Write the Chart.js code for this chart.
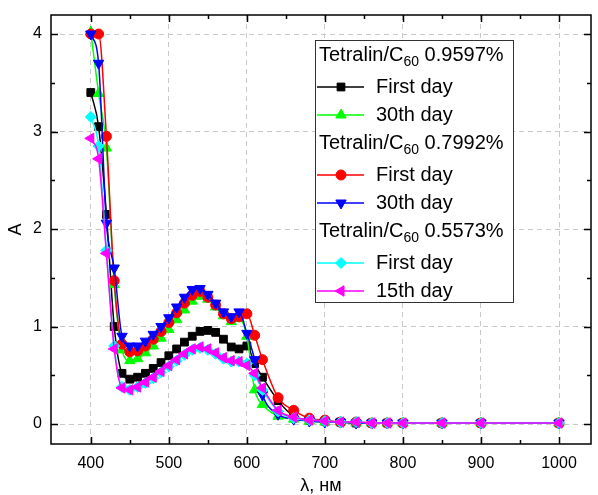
<!DOCTYPE html>
<html>
<head>
<meta charset="utf-8">
<script src="https://cdn.jsdelivr.net/npm/chart.js@4.4.1/dist/chart.umd.min.js"></script>
<style>
  html, body { margin: 0; padding: 0; background: #fff; }
  #wrap { width: 598px; height: 495px; position: relative; }
</style>
</head>
<body>
<div id="wrap"><canvas id="myChart1"></canvas></div>
<script>
// wavelength, nm
const wavelengths = [400,410,420,430,440,450,460,470,480,490,500,510,520,530,540,550,560,570,580,590,600,610,620,
                     640,660,680,700,720,740,760,780,800,850,900,1000];

// Tetralin/C60 0.9597%
const c9597_first = [3.40,3.05,2.15,1.00,0.52,0.46,0.48,0.52,0.57,0.63,0.70,0.77,0.84,0.90,0.95,0.96,0.94,0.87,0.79,0.77,0.80,0.62,0.48,
                     0.24,0.08,0.04,0.03,0.02,0.01,0.01,0.01,0.01,0.01,0.01,0.01];
const c9597_day30 = [4.02,3.39,2.83,1.43,0.76,0.65,0.67,0.73,0.80,0.88,0.97,1.07,1.17,1.26,1.31,1.28,1.20,1.11,1.05,1.08,0.90,0.35,0.20,
                     0.08,0.05,0.03,0.02,0.02,0.01,0.01,0.01,0.01,0.01,0.01,0.01];
// Tetralin/C60 0.7992%
const c7992_first = [4.00,4.00,2.95,1.47,0.82,0.74,0.75,0.80,0.87,0.95,1.04,1.14,1.24,1.32,1.36,1.30,1.22,1.13,1.08,1.10,1.13,0.91,0.66,
                     0.27,0.14,0.06,0.04,0.02,0.02,0.01,0.01,0.01,0.01,0.01,0.01];
const c7992_day30 = [4.00,3.70,2.06,1.60,0.90,0.80,0.80,0.85,0.92,1.00,1.09,1.20,1.30,1.38,1.39,1.33,1.24,1.15,1.10,1.15,0.93,0.66,0.30,
                     0.10,0.05,0.03,0.02,0.02,0.01,0.01,0.01,0.01,0.01,0.01,0.01];
// Tetralin/C60 0.5573%
const c5573_first = [3.15,2.85,1.78,0.80,0.38,0.35,0.38,0.42,0.47,0.53,0.59,0.65,0.71,0.76,0.78,0.76,0.72,0.67,0.64,0.64,0.62,0.50,0.35,
                     0.13,0.06,0.04,0.03,0.02,0.02,0.01,0.01,0.01,0.01,0.01,0.01];
const c5573_day15 = [2.93,2.72,1.75,0.77,0.37,0.35,0.38,0.43,0.48,0.54,0.60,0.66,0.72,0.77,0.79,0.77,0.73,0.68,0.65,0.64,0.60,0.52,0.37,
                     0.14,0.07,0.04,0.03,0.02,0.02,0.01,0.01,0.01,0.01,0.01,0.01];

const xTicks = [400,450,500,550,600,650,700,750,800,850,900,950,1000];
const yTicks = [0,0.5,1,1.5,2,2.5,3,3.5,4];

const FONT = "'Liberation Sans', Arial, sans-serif";

function pts(arr) {
  return arr.map(function(v, i){ return {x: wavelengths[i], y: v}; });
}

function series(label, arr, color, style, rot, radius, ord) {
  return {
    label: label,
    data: pts(arr),
    borderColor: color,
    backgroundColor: color,
    borderWidth: 1.5,
    pointStyle: style,
    pointRotation: rot,
    pointRadius: radius,
    pointBorderWidth: 1,
    pointBorderColor: color,
    pointBackgroundColor: color,
    cubicInterpolationMode: 'monotone',
    order: ord
  };
}

const datasets = [
  series('First day', c9597_first, '#000000', 'rect', 0, 5.5, 6),
  series('30th day', c9597_day30, '#00ff00', 'triangle', 0, 6, 5),
  series('First day', c7992_first, '#ff0000', 'circle', 0, 5, 4),
  series('30th day', c7992_day30, '#0000ff', 'triangle', 180, 6, 3),
  series('First day', c5573_first, '#00ffff', 'rectRot', 0, 5.5, 2),
  series('15th day', c5573_day15, '#ff00ff', 'triangle', -90, 6, 1)
];

const isMajor = function(v, step){ return Math.abs(v / step - Math.round(v / step)) < 1e-6; };

// no extra room for the edge labels, the frame is placed by layout.padding
function noLabelPadding(s) {
  s.paddingTop = 0; s.paddingBottom = 0; s.paddingLeft = 0; s.paddingRight = 0;
}

// frame + inward ticks on all four sides
const framePlugin = {
  id: 'frame',
  afterDraw: function(chart) {
    const ctx = chart.ctx, a = chart.chartArea;
    const sx = chart.scales.x, sy = chart.scales.y;
    ctx.save();
    ctx.strokeStyle = '#000';
    ctx.lineWidth = 1.5;
    ctx.strokeRect(a.left, a.top, a.right - a.left, a.bottom - a.top);
    ctx.beginPath();
    xTicks.forEach(function(v){
      const px = Math.round(sx.getPixelForValue(v)) + 0.5;
      const len = isMajor(v, 100) ? 7 : 4;
      ctx.moveTo(px, a.bottom); ctx.lineTo(px, a.bottom - len);
      ctx.moveTo(px, a.top); ctx.lineTo(px, a.top + len);
    });
    yTicks.forEach(function(v){
      const py = Math.round(sy.getPixelForValue(v)) + 0.5;
      const len = isMajor(v, 1) ? 7 : 4;
      ctx.moveTo(a.left, py); ctx.lineTo(a.left + len, py);
      ctx.moveTo(a.right, py); ctx.lineTo(a.right - len, py);
    });
    ctx.stroke();
    ctx.restore();
  }
};

// grouped legend with headers "Tetralin/C60 x%"
const legendRows = [
  {head: '0.9597%'}, {ds: 0}, {ds: 1},
  {head: '0.7992%'}, {ds: 2}, {ds: 3},
  {head: '0.5573%'}, {ds: 4}, {ds: 5}
];

const legendPlugin = {
  id: 'groupLegend',
  afterDraw: function(chart) {
    const ctx = chart.ctx;
    const bx = 315, by = 40, bw = 198, bh = 262;
    ctx.save();
    ctx.fillStyle = '#fff';
    ctx.fillRect(bx, by, bw, bh);
    ctx.strokeStyle = '#333';
    ctx.lineWidth = 1;
    ctx.strokeRect(bx + 0.5, by + 0.5, bw, bh);
    let y = 55;
    let prevHead = false;
    legendRows.forEach(function(r, i){
      if (i > 0) y += prevHead ? 32 : 28;
      ctx.textBaseline = 'middle';
      ctx.fillStyle = '#000';
      if (r.head) {
        ctx.font = '20px ' + FONT;
        let x = 319;
        ctx.fillText('Tetralin/C', x, y);
        x += ctx.measureText('Tetralin/C').width;
        ctx.font = '14px ' + FONT;
        ctx.fillText('60', x, y + 7);
        x += ctx.measureText('60').width;
        ctx.font = '20px ' + FONT;
        ctx.fillText(' ' + r.head, x, y);
        prevHead = true;
      } else {
        const d = chart.data.datasets[r.ds];
        ctx.strokeStyle = d.borderColor;
        ctx.lineWidth = 1.5;
        ctx.beginPath();
        ctx.moveTo(317, y); ctx.lineTo(364, y);
        ctx.stroke();
        ctx.fillStyle = d.pointBackgroundColor;
        ctx.strokeStyle = d.pointBorderColor;
        ctx.lineWidth = 1;
        Chart.helpers.drawPoint(ctx, {
          pointStyle: d.pointStyle, radius: d.pointRadius,
          rotation: d.pointRotation, borderWidth: 1
        }, 341, y);
        ctx.fillStyle = '#000';
        ctx.font = '20px ' + FONT;
        ctx.fillText(d.label, 376, y);
        prevHead = false;
      }
    });
    ctx.restore();
  }
};

const config1 = {
  type: 'line',
  data: { datasets: datasets },
  options: {
    responsive: true,
    maintainAspectRatio: false,
    animation: false,
    layout: { padding: { top: 15, right: 5, left: 0, bottom: 0 } },
    plugins: { legend: { display: false }, tooltip: { enabled: false } },
    scales: {
      x: {
        type: 'linear',
        min: 349,
        max: 1041,
        afterBuildTicks: function(s){ s.ticks = xTicks.map(function(v){ return {value: v}; }); },
        afterFit: function(s){ s.height = 51; noLabelPadding(s); },
        grid: {
          drawTicks: false,
          color: function(c){ return c.tick && isMajor(c.tick.value, 100) ? '#c8c8c8' : 'rgba(0,0,0,0)'; },
          lineWidth: 1
        },
        border: { display: false, dash: [5, 4] },
        ticks: {
          autoSkip: false,
          maxRotation: 0,
          padding: 10,
          color: '#000',
          font: { family: FONT, size: 16 },
          callback: function(v){ return isMajor(v, 100) ? String(v) : ''; }
        },
        title: {
          display: true,
          text: 'λ, нм',
          color: '#000',
          font: { family: FONT, size: 18, lineHeight: 1.0 },
          padding: { top: 0, bottom: 0 }
        }
      },
      y: {
        min: -0.205,
        max: 4.195,
        afterBuildTicks: function(s){ s.ticks = yTicks.map(function(v){ return {value: v}; }); },
        afterFit: function(s){ s.width = 51; noLabelPadding(s); },
        grid: {
          drawTicks: false,
          color: function(c){ return c.tick && isMajor(c.tick.value, 1) ? '#c8c8c8' : 'rgba(0,0,0,0)'; },
          lineWidth: 1
        },
        border: { display: false, dash: [5, 4] },
        ticks: {
          padding: 9,
          color: '#000',
          font: { family: FONT, size: 16 },
          callback: function(v){ return isMajor(v, 1) ? String(v) : ''; }
        },
        title: {
          display: true,
          text: 'A',
          color: '#000',
          font: { family: FONT, size: 18 },
          padding: { top: 5, bottom: 0 }
        }
      }
    }
  },
  plugins: [framePlugin, legendPlugin]
};

const myChart1 = new Chart(document.getElementById('myChart1'), config1);
</script>
</body>
</html>
